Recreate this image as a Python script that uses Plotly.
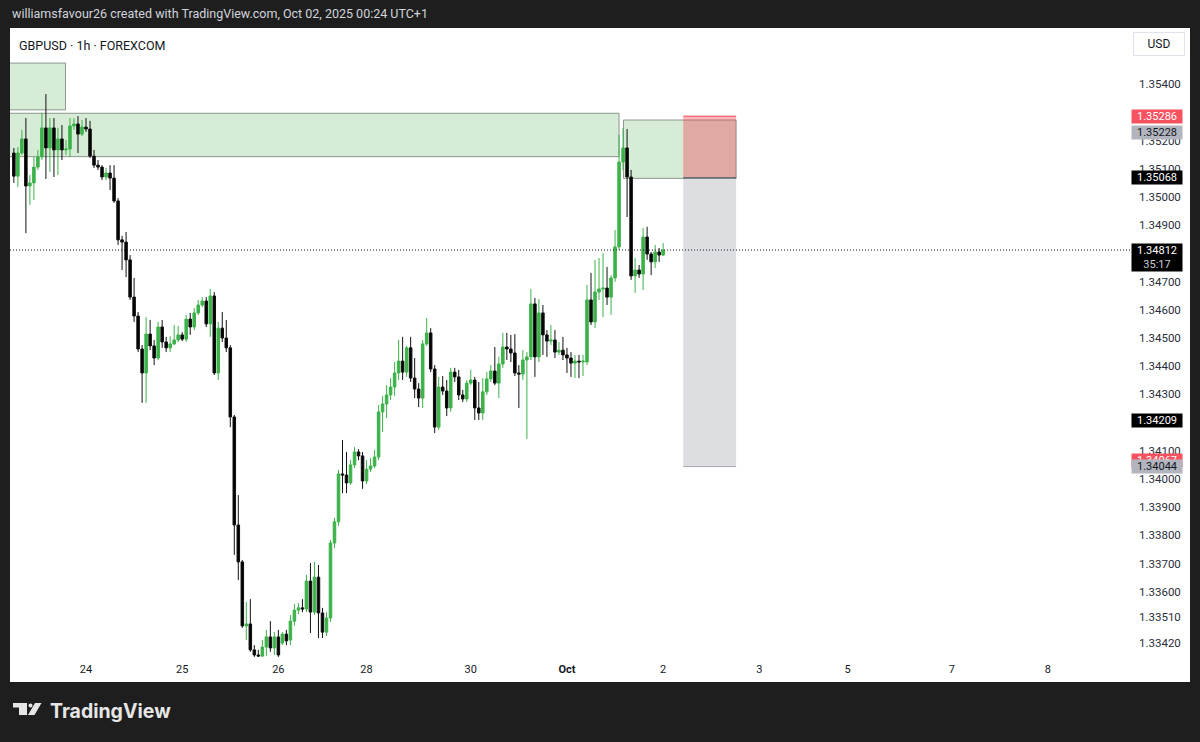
import plotly.graph_objects as go

# ---------------- data (GBPUSD 1h, FOREXCOM) ----------------
# bar numbers counted in hourly bars from Sep 24 00:00 (UTC+1), weekend bars skipped
first_bar = -18

open_ = [1.35156, 1.35074, 1.35156, 1.35206, 1.35039, 1.35050, 1.35106, 1.35142, 1.35245, 1.35174,
         1.35245, 1.35167, 1.35206, 1.35167, 1.35170, 1.35252, 1.35259, 1.35223, 1.35248, 1.35241,
         1.35145, 1.35113, 1.35106, 1.35071, 1.35085, 1.35067, 1.34986, 1.34848, 1.34840, 1.34777,
         1.34645, 1.34578, 1.34461, 1.34376, 1.34514, 1.34472, 1.34429, 1.34539, 1.34486, 1.34465,
         1.34479, 1.34493, 1.34511, 1.34496, 1.34567, 1.34539, 1.34589, 1.34617, 1.34631, 1.34550,
         1.34649, 1.34376, 1.34535, 1.34500, 1.34465, 1.34220, 1.33837, 1.33706, 1.33479, 1.33486,
         1.33394, 1.33376, 1.33372, 1.33404, 1.33440, 1.33401, 1.33440, 1.33418, 1.33450, 1.33429,
         1.33496, 1.33535, 1.33543, 1.33539, 1.33638, 1.33528, 1.33652, 1.33525, 1.33457, 1.33507,
         1.33773, 1.33848, 1.34018, 1.34014, 1.33986, 1.34050, 1.34096, 1.34082, 1.33993, 1.34035,
         1.34046, 1.34078, 1.34238, 1.34266, 1.34298, 1.34326, 1.34376, 1.34418, 1.34379, 1.34465,
         1.34358, 1.34319, 1.34287, 1.34479, 1.34518, 1.34390, 1.34184, 1.34326, 1.34312, 1.34252,
         1.34379, 1.34362, 1.34298, 1.34284, 1.34340, 1.34351, 1.34252, 1.34234, 1.34309, 1.34355,
         1.34383, 1.34340, 1.34408, 1.34468, 1.34461, 1.34447, 1.34376, 1.34372, 1.34422, 1.34433,
         1.34621, 1.34433, 1.34589, 1.34511, 1.34489, 1.34493, 1.34450, 1.34457, 1.34440, 1.34429,
         1.34411, 1.34418, 1.34415, 1.34415, 1.34635, 1.34557, 1.34663, 1.34674, 1.34677, 1.34645,
         1.34713, 1.34823, 1.35124, 1.35174, 1.35071, 1.34720, 1.34741, 1.34727, 1.34858, 1.34798,
         1.34770, 1.34805, 1.34794]

high = [1.35174, 1.35177, 1.35238, 1.35280, 1.35078, 1.35142, 1.35167, 1.35298, 1.35365, 1.35280,
        1.35280, 1.35245, 1.35255, 1.35202, 1.35280, 1.35280, 1.35287, 1.35273, 1.35280, 1.35270,
        1.35167, 1.35131, 1.35113, 1.35103, 1.35113, 1.35113, 1.34996, 1.34862, 1.34876, 1.34794,
        1.34713, 1.34592, 1.34475, 1.34574, 1.34564, 1.34493, 1.34557, 1.34564, 1.34504, 1.34507,
        1.34546, 1.34543, 1.34521, 1.34582, 1.34589, 1.34606, 1.34635, 1.34645, 1.34645, 1.34674,
        1.34663, 1.34557, 1.34592, 1.34564, 1.34475, 1.34227, 1.33943, 1.33713, 1.33564, 1.33574,
        1.33411, 1.33394, 1.33429, 1.33465, 1.33496, 1.33457, 1.33465, 1.33457, 1.33465, 1.33518,
        1.33557, 1.33560, 1.33574, 1.33660, 1.33702, 1.33706, 1.33695, 1.33543, 1.33528, 1.33784,
        1.33862, 1.34032, 1.34138, 1.34096, 1.34067, 1.34113, 1.34106, 1.34096, 1.34067, 1.34074,
        1.34103, 1.34262, 1.34294, 1.34333, 1.34358, 1.34415, 1.34493, 1.34504, 1.34472, 1.34504,
        1.34429, 1.34340, 1.34493, 1.34571, 1.34535, 1.34404, 1.34362, 1.34365, 1.34351, 1.34394,
        1.34394, 1.34387, 1.34316, 1.34351, 1.34387, 1.34362, 1.34344, 1.34358, 1.34379, 1.34404,
        1.34468, 1.34433, 1.34518, 1.34518, 1.34511, 1.34514, 1.34404, 1.34457, 1.34450, 1.34674,
        1.34642, 1.34638, 1.34617, 1.34528, 1.34546, 1.34528, 1.34486, 1.34504, 1.34465, 1.34450,
        1.34440, 1.34440, 1.34440, 1.34688, 1.34731, 1.34777, 1.34784, 1.34801, 1.34752, 1.34723,
        1.34883, 1.35220, 1.35245, 1.35241, 1.35096, 1.34784, 1.34759, 1.34890, 1.34894, 1.34805,
        1.34830, 1.34819, 1.34837]

low = [1.35050, 1.35035, 1.35149, 1.34872, 1.34972, 1.34989, 1.35096, 1.35131, 1.35064, 1.35089,
       1.35071, 1.35078, 1.35131, 1.35149, 1.35142, 1.35238, 1.35156, 1.35216, 1.35231, 1.35138,
       1.35103, 1.35096, 1.35060, 1.35060, 1.35025, 1.34979, 1.34830, 1.34741, 1.34716, 1.34635,
       1.34557, 1.34450, 1.34270, 1.34270, 1.34457, 1.34404, 1.34422, 1.34465, 1.34450, 1.34450,
       1.34475, 1.34486, 1.34489, 1.34486, 1.34511, 1.34528, 1.34582, 1.34610, 1.34539, 1.34504,
       1.34369, 1.34351, 1.34486, 1.34450, 1.34184, 1.33731, 1.33642, 1.33472, 1.33429, 1.33387,
       1.33369, 1.33369, 1.33369, 1.33372, 1.33387, 1.33376, 1.33369, 1.33411, 1.33411, 1.33411,
       1.33479, 1.33521, 1.33528, 1.33528, 1.33454, 1.33518, 1.33436, 1.33436, 1.33443, 1.33493,
       1.33755, 1.33833, 1.33950, 1.33950, 1.33979, 1.34039, 1.34067, 1.33965, 1.33982, 1.34025,
       1.34039, 1.34067, 1.34167, 1.34216, 1.34280, 1.34294, 1.34351, 1.34351, 1.34362, 1.34344,
       1.34287, 1.34255, 1.34252, 1.34472, 1.34379, 1.34163, 1.34174, 1.34298, 1.34223, 1.34238,
       1.34344, 1.34280, 1.34273, 1.34273, 1.34333, 1.34209, 1.34209, 1.34209, 1.34298, 1.34344,
       1.34333, 1.34287, 1.34394, 1.34422, 1.34415, 1.34365, 1.34252, 1.34351, 1.34142, 1.34422,
       1.34362, 1.34415, 1.34440, 1.34433, 1.34475, 1.34429, 1.34440, 1.34422, 1.34376, 1.34362,
       1.34358, 1.34358, 1.34365, 1.34404, 1.34546, 1.34535, 1.34635, 1.34574, 1.34617, 1.34582,
       1.34699, 1.34812, 1.35096, 1.34929, 1.34706, 1.34660, 1.34713, 1.34670, 1.34777, 1.34723,
       1.34748, 1.34770, 1.34791]

close = [1.35074, 1.35156, 1.35206, 1.35039, 1.35050, 1.35106, 1.35142, 1.35245, 1.35174, 1.35245,
         1.35167, 1.35206, 1.35167, 1.35170, 1.35252, 1.35259, 1.35223, 1.35248, 1.35241, 1.35145,
         1.35113, 1.35106, 1.35071, 1.35085, 1.35067, 1.34986, 1.34848, 1.34840, 1.34777, 1.34645,
         1.34578, 1.34461, 1.34376, 1.34514, 1.34472, 1.34429, 1.34539, 1.34486, 1.34465, 1.34479,
         1.34493, 1.34511, 1.34496, 1.34567, 1.34539, 1.34589, 1.34617, 1.34631, 1.34550, 1.34649,
         1.34376, 1.34535, 1.34500, 1.34465, 1.34220, 1.33837, 1.33706, 1.33479, 1.33486, 1.33394,
         1.33376, 1.33372, 1.33404, 1.33440, 1.33401, 1.33440, 1.33376, 1.33450, 1.33426, 1.33496,
         1.33535, 1.33543, 1.33539, 1.33638, 1.33528, 1.33652, 1.33525, 1.33457, 1.33507, 1.33773,
         1.33848, 1.34018, 1.34014, 1.33986, 1.34050, 1.34096, 1.34082, 1.33993, 1.34035, 1.34046,
         1.34078, 1.34238, 1.34266, 1.34298, 1.34326, 1.34376, 1.34418, 1.34379, 1.34465, 1.34358,
         1.34319, 1.34287, 1.34479, 1.34518, 1.34390, 1.34184, 1.34326, 1.34312, 1.34252, 1.34379,
         1.34362, 1.34298, 1.34284, 1.34340, 1.34351, 1.34252, 1.34234, 1.34309, 1.34355, 1.34383,
         1.34340, 1.34408, 1.34468, 1.34461, 1.34447, 1.34376, 1.34372, 1.34422, 1.34433, 1.34621,
         1.34433, 1.34589, 1.34511, 1.34489, 1.34493, 1.34450, 1.34457, 1.34440, 1.34429, 1.34411,
         1.34418, 1.34415, 1.34418, 1.34635, 1.34557, 1.34663, 1.34674, 1.34677, 1.34645, 1.34713,
         1.34823, 1.35124, 1.35174, 1.35071, 1.34720, 1.34741, 1.34727, 1.34858, 1.34798, 1.34770,
         1.34805, 1.34794, 1.34812]

day_ticks = [0, 24, 48, 70, 96, 120, 144, 168, 190, 216, 240]
day_labels = ["24", "25", "26", "28", "30", "<b>Oct</b>", "2", "3", "5", "7", "8"]

price_ticks = [1.35400, 1.35200, 1.35100, 1.35000, 1.34900, 1.34700, 1.34600, 1.34500,
               1.34400, 1.34300, 1.34100, 1.34000, 1.33900, 1.33800, 1.33700, 1.33600,
               1.33510, 1.33420]

# drawn zones (bar numbers / prices)
zone_start = [-40, -40, 134.1]
zone_end = [-5.1, 133.0, 162.2]
zone_low = [1.35309, 1.35143, 1.35066]
zone_high = [1.35475, 1.35297, 1.35273]

pos_start, pos_end = 149.0, 162.2
pos_stop, pos_entry, pos_target = 1.35286, 1.35068, 1.34044
last_price = 1.34812

label_prices = [1.35286, 1.35228, 1.35068, 1.34812, 1.34209, 1.34067, 1.34044]
label_texts = ["1.35286", "1.35228", "1.35068", "1.34812<br><span style='color:#c9ccd4'>35:17</span>",
               "1.34209", "1.34067", "1.34044"]
label_bg = ["#f7525f", "#b2b5be", "#000000", "#000000", "#000000", "#f7525f", "#b2b5be"]
label_fg = ["#ffffff", "#131722", "#ffffff", "#ffffff", "#ffffff", "#ffffff", "#131722"]

# ---------------- layout geometry ----------------
W, H = 1200, 742
PL, PR, PT, PB = 10, 1128, 28, 659          # plot area in pixels
PX_PER_BAR = 4.008
BAR0_PX = 86                                # pixel of bar 0 (Sep 24)
PX_PER_PRICE = 28200
REF_PRICE, REF_PX = 1.35, 197

x_range = [(PL - BAR0_PX) / PX_PER_BAR, (PR - BAR0_PX) / PX_PER_BAR]
y_range = [REF_PRICE - (PB - REF_PX) / PX_PER_PRICE, REF_PRICE + (REF_PX - PT) / PX_PER_PRICE]


def px_x(p):
    return (p - PL) / (PR - PL)


def px_y(p):
    return (PB - p) / (PB - PT)


bars = list(range(first_bar, first_bar + len(close)))

GREEN = "#3cb249"
fig = go.Figure()
fig.add_trace(go.Candlestick(
    x=bars, open=open_, high=high, low=low, close=close,
    increasing=dict(line=dict(color=GREEN, width=1), fillcolor=GREEN),
    decreasing=dict(line=dict(color="#111111", width=1), fillcolor="#000000"),
    hoverinfo="skip", showlegend=False,
))

shapes = []
# white chart panel
shapes.append(dict(type="rect", xref="paper", yref="paper", x0=px_x(10), x1=px_x(1190),
                   y0=px_y(682), y1=px_y(28), fillcolor="#ffffff", line=dict(width=0), layer="below"))
# zones
for x0, x1, y0, y1 in zip(zone_start, zone_end, zone_low, zone_high):
    shapes.append(dict(type="rect", xref="x", yref="y", x0=x0, x1=x1, y0=y0, y1=y1,
                       fillcolor="rgba(67,170,72,0.22)", line=dict(color="rgba(110,120,112,0.75)", width=1),
                       layer="below"))
# short position tool
shapes.append(dict(type="rect", xref="x", yref="y", x0=pos_start, x1=pos_end, y0=pos_entry, y1=pos_stop,
                   fillcolor="rgba(242,54,69,0.36)", line=dict(width=0), layer="below"))
shapes.append(dict(type="rect", xref="x", yref="y", x0=pos_start, x1=pos_end, y0=pos_target, y1=pos_entry,
                   fillcolor="rgba(120,123,134,0.25)", line=dict(width=0), layer="below"))
shapes.append(dict(type="line", xref="x", yref="y", x0=pos_start, x1=pos_end, y0=pos_stop, y1=pos_stop,
                   line=dict(color="rgba(242,54,69,0.6)", width=1.5), layer="below"))
shapes.append(dict(type="line", xref="x", yref="y", x0=pos_start, x1=pos_end, y0=pos_entry, y1=pos_entry,
                   line=dict(color="#6b6e78", width=1.5), layer="below"))
shapes.append(dict(type="line", xref="x", yref="y", x0=pos_start, x1=pos_end, y0=pos_target, y1=pos_target,
                   line=dict(color="rgba(120,123,134,0.6)", width=1), layer="below"))
# last price dotted line
shapes.append(dict(type="line", xref="paper", yref="y", x0=0, x1=px_x(1131), y0=last_price, y1=last_price,
                   line=dict(color="#131722", width=1, dash="1px,2px")))

# TradingView logo glyph (bottom-left)
shapes.append(dict(type="path", xref="paper", yref="paper",
                   path=f"M {px_x(13)},{px_y(703)} L {px_x(27)},{px_y(703)} L {px_x(27)},{px_y(715)} "
                        f"L {px_x(19)},{px_y(715)} L {px_x(19)},{px_y(707.5)} L {px_x(13)},{px_y(707.5)} Z",
                   fillcolor="#e6e6e6", line=dict(width=0)))
shapes.append(dict(type="circle", xref="paper", yref="paper", x0=px_x(28.5), x1=px_x(32.5),
                   y0=px_y(707.5), y1=px_y(703.5), fillcolor="#e6e6e6", line=dict(width=0)))
shapes.append(dict(type="path", xref="paper", yref="paper",
                   path=f"M {px_x(35)},{px_y(703)} L {px_x(41.5)},{px_y(703)} L {px_x(34.5)},{px_y(715)} "
                        f"L {px_x(28)},{px_y(715)} Z",
                   fillcolor="#e6e6e6", line=dict(width=0)))

annotations = []
annotations.append(dict(xref="paper", yref="paper", x=px_x(10), y=px_y(14), xanchor="left", yanchor="middle",
                        text="williamsfavour26 created with TradingView.com, Oct 02, 2025 00:24 UTC+1",
                        showarrow=False, font=dict(family="Roboto", size=12.5, color="#d1d4dc")))
annotations.append(dict(xref="paper", yref="paper", x=px_x(17), y=px_y(45), xanchor="left", yanchor="middle",
                        text="GBPUSD · 1h · FOREXCOM", showarrow=False,
                        font=dict(family="Roboto", size=12.5, color="#131722")))
annotations.append(dict(xref="paper", yref="paper", x=px_x(1159), y=px_y(44), xanchor="center", yanchor="middle",
                        text="USD", showarrow=False, width=46, height=18, bgcolor="#ffffff",
                        bordercolor="#e0e3eb", borderwidth=1, borderpad=2,
                        font=dict(family="Roboto", size=12, color="#131722")))
annotations.append(dict(xref="paper", yref="paper", x=px_x(48), y=px_y(711), xanchor="left", yanchor="middle",
                        text="<b>TradingView</b>", showarrow=False,
                        font=dict(family="Inter", size=19.5, color="#e6e6e6")))
for p, t, bg, fg in zip(label_prices, label_texts, label_bg, label_fg):
    two_line = "<br>" in t
    annotations.append(dict(xref="paper", yref="y", x=px_x(1131), y=p, xanchor="left",
                            yanchor="top" if two_line else "middle", yshift=7 if two_line else 0,
                            text=t, showarrow=False, bgcolor=bg, width=50, borderpad=0, align="center",
                            font=dict(family="Roboto", size=11, color=fg)))

fig.update_layout(
    width=W, height=H,
    margin=dict(l=PL, r=W - PR, t=PT, b=H - PB),
    paper_bgcolor="#1e1e1e", plot_bgcolor="#ffffff",
    shapes=shapes, annotations=annotations,
    showlegend=False, hovermode=False, boxgap=0.1,
    xaxis=dict(range=x_range, tickmode="array", tickvals=day_ticks, ticktext=day_labels,
               showgrid=False, zeroline=False, showline=False, ticks="",
               tickfont=dict(family="Roboto", size=11, color="#131722"),
               rangeslider=dict(visible=False), fixedrange=True, ticklabelstandoff=2),
    yaxis=dict(range=y_range, side="right", tickmode="array", tickvals=price_ticks,
               ticktext=[f"{v:.5f}" for v in price_ticks], showgrid=False, zeroline=False,
               showline=False, ticks="", ticklabelstandoff=10,
               tickfont=dict(family="Roboto", size=11.5, color="#2a2e39"), fixedrange=True),
)

fig.write_html("out.html")
